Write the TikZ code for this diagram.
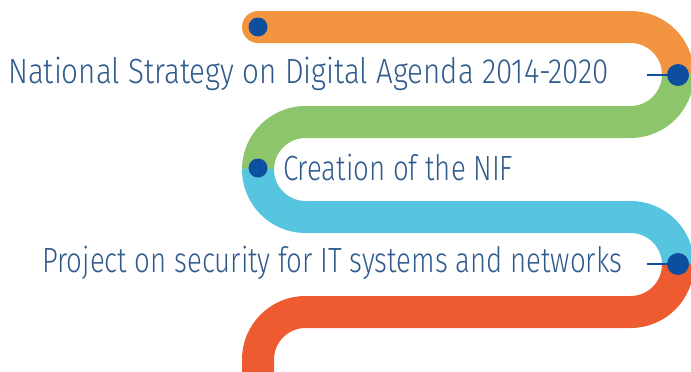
\documentclass[tikz,border=0pt]{standalone}
\usepackage{fontspec}
\usepackage{graphicx}
\setmainfont{Fira Sans Light}
\definecolor{bOrange}{HTML}{F39441}
\definecolor{bGreen}{HTML}{8CC56B}
\definecolor{bBlue}{HTML}{57C5DF}
\definecolor{bRed}{HTML}{EE5B30}
\definecolor{dotBlue}{HTML}{0D4E9E}
\definecolor{txtBlue}{HTML}{2E5A8C}
\newsavebox\tbox
\newcommand\fittext[2]{\sbox\tbox{#2}\pgfmathsetmacro\sx{#1/\wd\tbox}\scalebox{\sx}[1]{\usebox\tbox}}
\tikzset{
  band/.style={line width=32pt, line cap=butt, rounded corners=47.5pt},
  bigdot/.style={circle, fill=dotBlue, inner sep=0pt, minimum size=22pt},
  smalldot/.style={circle, fill=dotBlue, inner sep=0pt, minimum size=19pt},
  label/.style={anchor=base west, inner sep=0pt, text=txtBlue, font=\fontsize{35pt}{40pt}\selectfont},
  conn/.style={draw=dotBlue, line width=2pt}
}
\begin{document}
\begin{tikzpicture}[x=1pt,y=-1pt]
\useasboundingbox (0,0) rectangle (691,372);
\begin{scope}
\clip (0,0) rectangle (691,372);
\fill[bOrange] (258,27) circle (16);
\draw[band, bOrange] (258,27) -- (678,27) -- (678,74.5);
\draw[band, bGreen] (678,73.5) -- (678,122) -- (258,122) -- (258,169.5);
\draw[band, bBlue] (258,168.5) -- (258,217) -- (678,217) -- (678,264.5);
\draw[band, bRed] (678,263.5) -- (678,312) -- (258,312) -- (258,420);
\end{scope}
\node[smalldot] (d1) at (258,27) {};
\node[bigdot] (d2) at (678,75) {};
\node[smalldot] (d3) at (258,168) {};
\node[bigdot] (d4) at (678,264) {};
\coordinate (c2) at (647,75);
\coordinate (c4) at (647,264);
\draw[conn] (c2) -- (d2);
\draw[conn] (c4) -- (d4);
\node[label] (t1) at (8,83) {\fittext{601}{National Strategy on Digital Agenda 2014-2020}};
\node[label] (t2) at (283,180) {\fittext{230}{Creation of the NIF}};
\node[label] (t3) at (42,272) {\fittext{580}{Project on security for IT systems and networks}};
\end{tikzpicture}
\end{document}
